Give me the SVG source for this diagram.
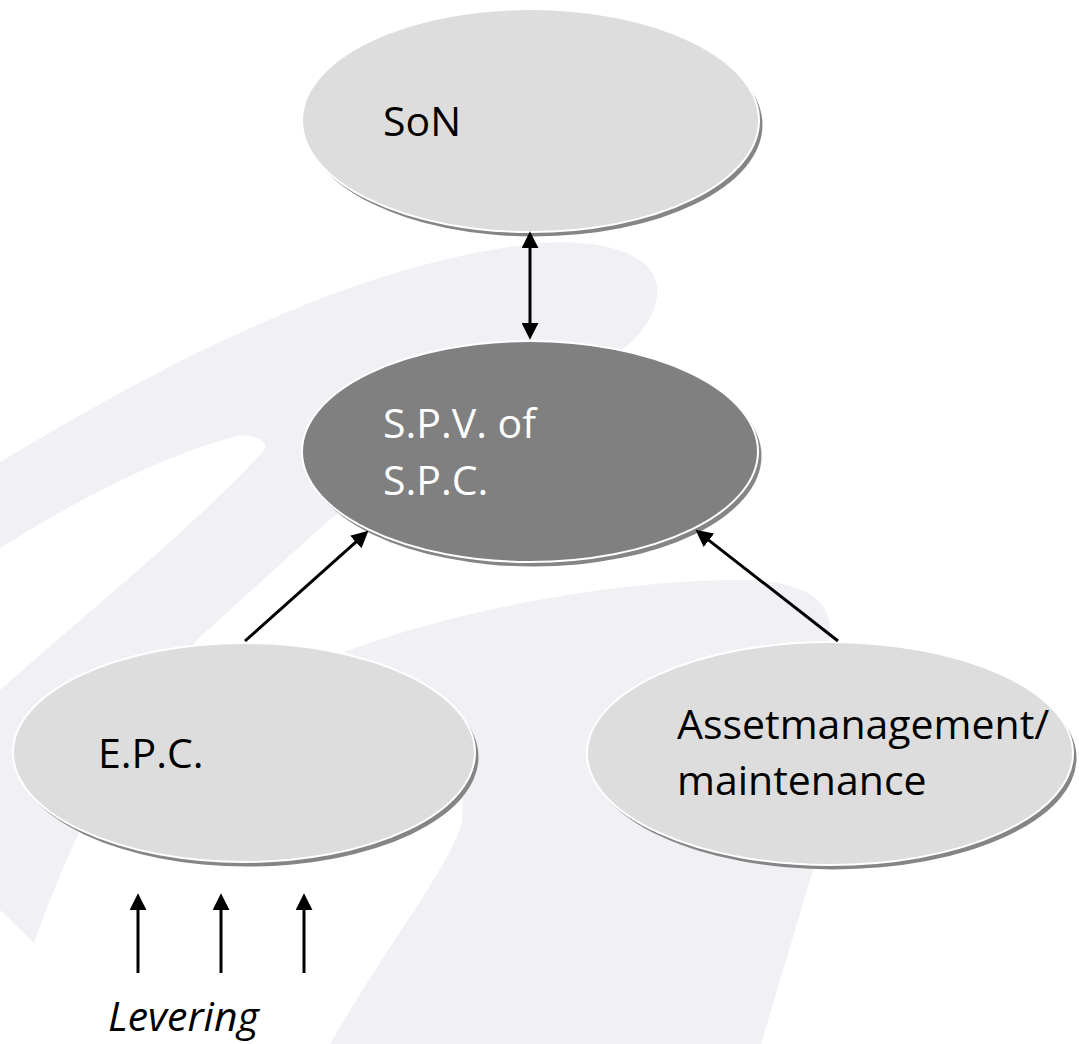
<svg xmlns="http://www.w3.org/2000/svg" width="1079" height="1044" viewBox="0 0 1079 1044">
<style>
.bg{fill:#f1f0f5;stroke:none}
.shadow{fill:#858585}
.light{fill:#dddddd;stroke:#ffffff;stroke-width:2}
.dark{fill:#808080;stroke:#ffffff;stroke-width:2}
.lbl{font-family:"Open Sans","Liberation Sans",sans-serif;font-size:41px;fill:#000000}
.lblw{fill:#ffffff}
.ital{font-style:italic}
.conn{stroke:#000000;stroke-width:3;fill:none}
</style>
<defs>
<marker id="ah" markerUnits="userSpaceOnUse" markerWidth="17" markerHeight="17" viewBox="0 0 15 15" refX="1" refY="7.5" orient="auto-start-reverse">
<path d="M0,0 L15,7.5 L0,15 Z" fill="#000000"/>
</marker>
</defs>
<rect width="1079" height="1044" fill="#ffffff"/>
<g id="background">
<path class="bg" d="M0,462 C150,372 350,262 540,243 C620,238 662,262 657,296 C654,318 640,336 622,350 L480,430 L333,517 C290,555 230,610 197,640 C130,720 70,840 34,943 L0,910 L0,690 C90,610 190,530 263,452 C272,440 250,432 233,437 C150,460 70,505 0,548 Z"/>
<path class="bg" d="M344,652 C450,612 610,580 740,580 C800,580 832,598 830,632 L813,870 L761,1044 L330,1044 C390,940 455,860 462,820 C470,760 420,690 344,652 Z"/>
</g>
<g id="node-son">
<ellipse class="shadow" cx="534" cy="125" rx="228.5" ry="111.5"/>
<ellipse class="light" cx="530.5" cy="120.5" rx="228.5" ry="111.5"/>
<text class="lbl" x="383" y="136">SoN</text>
</g>
<g id="node-spv">
<ellipse class="shadow" cx="533.5" cy="456" rx="228" ry="110.5"/>
<ellipse class="dark" cx="530" cy="451.5" rx="228" ry="110.5"/>
<text class="lbl lblw" x="383" y="438">S.P.V. of</text>
<text class="lbl lblw" x="383" y="495">S.P.C.</text>
</g>
<g id="node-epc">
<ellipse class="shadow" cx="247.5" cy="757" rx="231" ry="109.5"/>
<ellipse class="light" cx="244" cy="752.5" rx="231" ry="109.5"/>
<text class="lbl" x="98" y="768">E.P.C.</text>
</g>
<g id="node-asset">
<ellipse class="shadow" cx="833.5" cy="758" rx="243" ry="111.5"/>
<ellipse class="light" cx="830" cy="753.5" rx="243" ry="111.5"/>
<text class="lbl" x="677" y="739">Assetmanagement/</text>
<text class="lbl" x="677" y="795">maintenance</text>
</g>
<g id="label-levering">
<text class="lbl ital" x="108" y="1031">Levering</text>
</g>
<g id="connectors">
<line class="conn" x1="530" y1="247" x2="530" y2="324" marker-start="url(#ah)" marker-end="url(#ah)"/>
<line class="conn" x1="245" y1="641" x2="356.6" y2="541.3" marker-end="url(#ah)"/>
<line class="conn" x1="838" y1="641" x2="708" y2="539.6" marker-end="url(#ah)"/>
<line class="conn" x1="138" y1="973" x2="138" y2="909" marker-end="url(#ah)"/>
<line class="conn" x1="221" y1="973" x2="221" y2="909" marker-end="url(#ah)"/>
<line class="conn" x1="304" y1="973" x2="304" y2="909" marker-end="url(#ah)"/>
</g>
</svg>
